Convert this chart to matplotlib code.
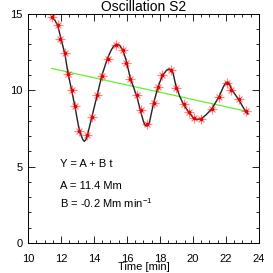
import matplotlib
matplotlib.use("Agg")
import matplotlib.pyplot as plt
from matplotlib.ticker import MultipleLocator

plt.rcParams['font.family'] = ['Liberation Sans', 'DejaVu Sans']
plt.rcParams['mathtext.fontset'] = 'custom'
plt.rcParams['mathtext.rm'] = 'Liberation Sans'
plt.rcParams['mathtext.it'] = 'Liberation Sans'

# measured positions (red asterisks)
time_obs = [11.44, 11.80, 11.96, 12.24, 12.42, 12.64, 12.86, 13.07, 13.59, 13.88,
            14.21, 14.47, 14.82, 15.36, 15.76, 15.94, 16.20, 16.61, 16.83, 17.21,
            17.61, 17.88, 18.14, 18.67, 18.95, 19.45, 19.76, 20.04, 20.50, 21.15,
            21.59, 22.06, 22.33, 22.76, 23.19]
pos_obs = [14.78, 14.30, 13.36, 12.41, 11.05, 10.03, 8.97, 7.32, 7.07, 8.26,
           9.67, 10.93, 12.04, 12.99, 12.65, 11.82, 10.77, 9.66, 8.70, 7.81,
           9.19, 10.24, 11.01, 11.34, 10.18, 9.08, 8.59, 8.16, 8.14, 8.75,
           9.57, 10.49, 10.03, 9.44, 8.62]

# fitted oscillation curve (black)
time_fit = [11.44, 11.62, 11.80, 11.96, 12.10, 12.24, 12.42, 12.64, 12.86, 13.07,
            13.22, 13.32, 13.41, 13.50, 13.59, 13.88, 14.21, 14.47, 14.82, 15.05,
            15.20, 15.36, 15.55, 15.76, 15.94, 16.20, 16.61, 16.83, 17.00, 17.10,
            17.21, 17.35, 17.61, 17.88, 18.14, 18.40, 18.55, 18.67, 18.80, 18.95,
            19.20, 19.45, 19.76, 20.04, 20.25, 20.50, 20.80, 21.15, 21.59, 21.85,
            21.98, 22.10, 22.20, 22.33, 22.76, 23.19, 23.33]
pos_fit = [14.78, 14.60, 14.25, 13.55, 12.95, 12.35, 11.15, 10.03, 8.85, 7.60,
           7.05, 6.78, 6.66, 6.75, 7.00, 8.30, 9.75, 10.95, 12.10, 12.65,
           12.90, 13.02, 12.95, 12.60, 12.00, 10.80, 9.55, 8.60, 7.95, 7.70,
           7.66, 7.85, 9.15, 10.22, 10.95, 11.32, 11.40, 11.35, 11.10, 10.35,
           9.60, 9.02, 8.55, 8.16, 8.08, 8.14, 8.40, 8.80, 9.60, 10.25,
           10.48, 10.55, 10.45, 10.08, 9.40, 8.62, 8.45]

# linear trend Y = A + B t (green)
time_trend = [11.44, 23.19]
pos_trend = [11.43, 8.64]

fit_lines = ["Y = A + B t", "A = 11.4 Mm", "B = -0.2 Mm min$^{-1}$"]
fit_text_y = [5.2, 3.75, 2.6]

fig = plt.figure(figsize=(2.73, 2.73), dpi=100)
ax = fig.add_axes([0.1026, 0.1099, 0.846, 0.839])

ax.plot(time_fit, pos_fit, color='#222222', lw=1.0, zorder=2)
ax.plot(time_trend, pos_trend, color='#66ee33', lw=0.9, zorder=1)
ax.plot(time_obs, pos_obs, ls='none', marker='+', ms=6.5, mew=0.9,
        color='#ff2020', alpha=0.55, zorder=3)
ax.plot(time_obs, pos_obs, ls='none', marker='x', ms=5, mew=0.9,
        color='#ff2020', alpha=0.55, zorder=3)
ax.plot(time_obs, pos_obs, ls='none', marker='o', ms=1.6,
        color='#ee0000', zorder=4)

for txt, yy in zip(fit_lines, fit_text_y):
    ax.text(11.95, yy, txt, fontsize=8, va='center', ha='left')

ax.set_xlim(10, 24)
ax.set_ylim(0, 15)
ax.xaxis.set_major_locator(MultipleLocator(2))
ax.xaxis.set_minor_locator(MultipleLocator(0.5))
ax.yaxis.set_major_locator(MultipleLocator(5))
ax.yaxis.set_minor_locator(MultipleLocator(1))
ax.tick_params(which='both', direction='in', top=True, right=True,
               labelsize=8, width=0.6)
ax.tick_params(which='major', length=5)
ax.tick_params(which='minor', length=2.5)
ax.tick_params(axis='x', which='major', pad=8)
ax.tick_params(axis='y', which='major', pad=4)
for sp in ax.spines.values():
    sp.set_linewidth(0.7)

ax.set_title("Oscillation S2", fontsize=10, pad=1)
ax.set_xlabel("Time [min]", fontsize=8, labelpad=-1.3)
ax.set_ylabel("Distance [Mm]", fontsize=8)
ax.yaxis.set_label_coords(-0.135, 0.55)

fig.savefig("out.png", dpi=100)
